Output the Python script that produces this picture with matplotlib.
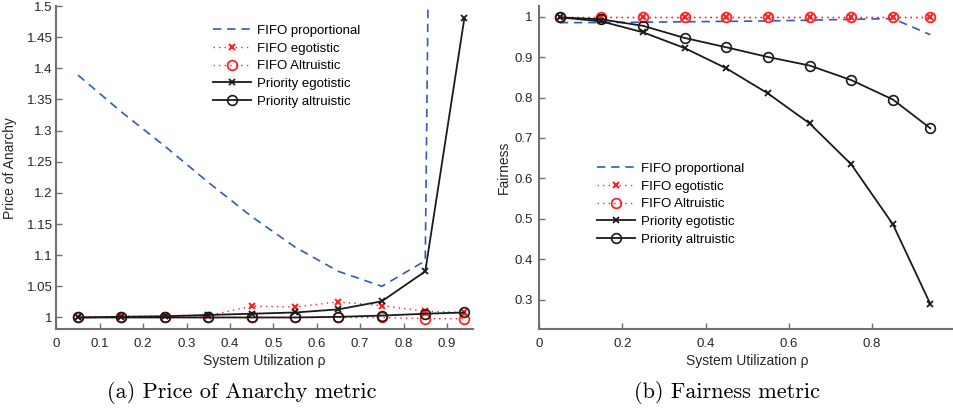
import matplotlib
matplotlib.use("Agg")
import matplotlib.pyplot as plt
from matplotlib.ticker import FuncFormatter

rho = [0.05, 0.15, 0.25, 0.35, 0.45, 0.55, 0.65, 0.75, 0.85, 0.94]

# (a) Price of Anarchy
poa_fifo_prop = [1.389, 1.330, 1.275, 1.217, 1.162, 1.113, 1.074, 1.050, 1.091, 7.0]
poa_fifo_ego = [1.000, 1.002, 1.002, 1.003, 1.018, 1.017, 1.025, 1.019, 1.010, 1.008]
poa_fifo_alt = [1.000, 1.000, 1.000, 1.000, 1.000, 1.000, 1.000, 1.000, 0.998, 0.998]
poa_prio_ego = [1.000, 1.001, 1.002, 1.004, 1.006, 1.008, 1.013, 1.026, 1.074, 1.480]
poa_prio_alt = [1.000, 1.000, 1.000, 1.000, 1.000, 1.000, 1.001, 1.003, 1.006, 1.008]

# (b) Fairness
fair_fifo_prop = [0.985, 0.985, 0.986, 0.987, 0.988, 0.989, 0.991, 0.993, 0.995, 0.955]
fair_fifo_ego = [1.000, 1.000, 1.000, 1.000, 1.000, 1.000, 1.000, 1.000, 1.000, 1.000]
fair_fifo_alt = [1.000, 1.000, 1.000, 1.000, 1.000, 1.000, 1.000, 1.000, 1.000, 1.000]
fair_prio_ego = [0.998, 0.988, 0.961, 0.922, 0.872, 0.810, 0.736, 0.635, 0.487, 0.290]
fair_prio_alt = [0.998, 0.993, 0.977, 0.947, 0.924, 0.900, 0.879, 0.843, 0.795, 0.724]

labels = ["FIFO proportional", "FIFO egotistic", "FIFO Altruistic",
          "Priority egotistic", "Priority altruistic"]

plt.rcParams['font.family'] = ['Liberation Sans', 'DejaVu Sans']

W, H = 954, 409
fig = plt.figure(figsize=(W / 100, H / 100), dpi=100)

def px_axes(x0, x1, y_top, y_bot):
    return fig.add_axes([x0 / W, 1 - y_bot / H, (x1 - x0) / W, (y_bot - y_top) / H])

ax1 = px_axes(56.3, 473, 6, 329.3)
ax2 = px_axes(539, 955.3, 6, 329.3)

BLUE = '#2f5bbd'
RED = '#ff2222'
BLK = '#1a1a1a'
SPINE = '#707070'

def draw(ax, series):
    fp, fe, fa, pe, pa = series
    ax.plot(rho, fp, color=BLUE, lw=1.2, ls=(0, (5, 3.5)), label=labels[0])
    ax.plot(rho, fe, color=RED, lw=1.0, ls=(0, (1, 3)), marker='x', ms=5, mew=1.5, label=labels[1])
    ax.plot(rho, fa, color=RED, lw=1.0, ls=(0, (1, 3)), marker='o', ms=7, mew=1.3,
            mfc='none', label=labels[2])
    ax.plot(rho, pe, color=BLK, lw=1.3, marker='x', ms=5, mew=1.3, label=labels[3])
    ax.plot(rho, pa, color=BLK, lw=1.3, marker='o', ms=7, mew=1.2, mfc='none', label=labels[4])

def fmt_fn(v, p):
    return '%g' % round(v, 4)

def style(ax, ypad):
    for s in ['top', 'right']:
        ax.spines[s].set_visible(False)
    for s in ['left', 'bottom']:
        ax.spines[s].set_color(SPINE)
        ax.spines[s].set_linewidth(1.5)
    ax.tick_params(direction='in', length=4, width=1, color=SPINE, labelsize=9.5,
                   labelcolor='#262626', pad=6)
    ax.tick_params(axis='y', pad=ypad)
    fmt = FuncFormatter(fmt_fn)
    ax.xaxis.set_major_formatter(fmt)
    ax.yaxis.set_major_formatter(fmt)
    ax.set_xlabel('System Utilization ρ', fontsize=10, color='#262626', labelpad=3)

draw(ax1, [poa_fifo_prop, poa_fifo_ego, poa_fifo_alt, poa_prio_ego, poa_prio_alt])
ax1.set_xlim(0, 0.96)
ax1.set_ylim(0.981, 1.5)
ax1.set_xticks([0, 0.1, 0.2, 0.3, 0.4, 0.5, 0.6, 0.7, 0.8, 0.9])
ax1.set_yticks([1, 1.05, 1.1, 1.15, 1.2, 1.25, 1.3, 1.35, 1.4, 1.45, 1.5])
style(ax1, 2.5)
ax1.set_ylabel('Price of Anarchy', fontsize=10, color='#262626', labelpad=7)

draw(ax2, [fair_fifo_prop, fair_fifo_ego, fair_fifo_alt, fair_prio_ego, fair_prio_alt])
ax2.set_xlim(0, 1.0)
ax2.set_ylim(0.2275, 1.026)
ax2.set_xticks([0, 0.2, 0.4, 0.6, 0.8])
ax2.set_yticks([0.3, 0.4, 0.5, 0.6, 0.7, 0.8, 0.9, 1.0])
style(ax2, 4.5)
ax2.set_ylabel('Fairness', fontsize=10, color='#262626', labelpad=2.5)

leg_kw = dict(frameon=False, fontsize=9.5, handlelength=2.9, handletextpad=0.4,
              labelspacing=0.42, borderpad=0, borderaxespad=0, loc='upper left')
ax1.legend(bbox_to_anchor=(213 / W, 1 - 24.5 / H), bbox_transform=fig.transFigure, **leg_kw)
ax2.legend(bbox_to_anchor=(597 / W, 1 - 162.5 / H), bbox_transform=fig.transFigure, **leg_kw)

fig.text(242 / W, 1 - 392 / H, '(a) Price of Anarchy metric', family='cmr10',
         fontsize=16, ha='center', va='center')
fig.text(727 / W, 1 - 392 / H, '(b) Fairness metric', family='cmr10',
         fontsize=16, ha='center', va='center')

fig.savefig('out.png', dpi=100)
